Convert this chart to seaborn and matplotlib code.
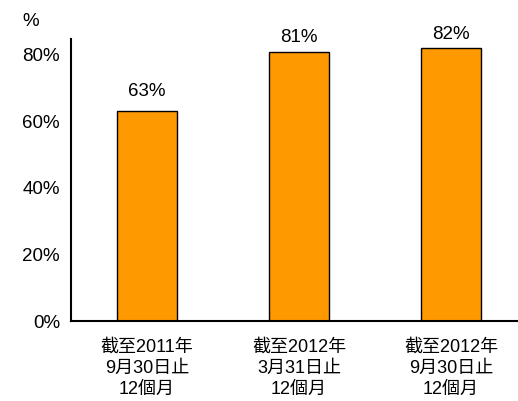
import matplotlib
matplotlib.use("Agg")
import matplotlib.pyplot as plt
import seaborn as sns
import pandas as pd

# ----- DATA -----
categories = ["截至2011年\n9月30日止\n12個月", "截至2012年\n3月31日止\n12個月", "截至2012年\n9月30日止\n12個月"]
values = [63, 81, 82]
y_ticks = [0, 20, 40, 60, 80]

sns.set_style("white")
plt.rcParams['font.family'] = ['Liberation Sans', 'Noto Sans CJK TC', 'DejaVu Sans']
plt.rcParams['text.color'] = 'black'
plt.rcParams['xtick.color'] = 'black'
plt.rcParams['ytick.color'] = 'black'

df = pd.DataFrame({"cat": categories, "val": values})

fig = plt.figure(figsize=(5.18, 4.01), dpi=100)
ax = fig.add_axes([71 / 518, 1 - 321 / 401, 456 / 518, (321 - 39) / 401])

sns.barplot(data=df, x="cat", y="val", color="#FF9900", saturation=1,
            edgecolor="black", linewidth=1, width=0.4, ax=ax)

ax.set_xlim(-0.5, 2.5)
ax.set_ylim(0, 84.8)
ax.set_yticks(y_ticks)
ax.set_yticklabels([f"{v}%" for v in y_ticks], fontsize=13.5)
ax.tick_params(axis="y", direction="in", length=5, width=1, color="black", pad=8)

ax.set_xticks(range(len(categories)))
ax.set_xticklabels(categories, fontsize=13, linespacing=1.3)
ax.tick_params(axis="x", which="major", length=0, pad=13)
ax.set_xticks([-0.5, 0.5, 1.5], minor=True)
ax.tick_params(axis="x", which="minor", direction="out", length=5, width=1, color="black")

ax.set_xlabel("")
ax.set_ylabel("")
for side in ["top", "right"]:
    ax.spines[side].set_visible(False)
for side in ["left", "bottom"]:
    ax.spines[side].set_color("black")
    ax.spines[side].set_linewidth(1.5)

# value labels above bars (pad in % units)
label_pads = [3.6, 1.8, 1.7]
for i, (v, p) in enumerate(zip(values, label_pads)):
    ax.text(i, v + p, f"{v}%", ha="center", va="bottom", fontsize=13.5)

fig.text(22 / 518, 1 - 22 / 401, "%", fontsize=13.5, va="center")

fig.savefig("out.png", dpi=100)
